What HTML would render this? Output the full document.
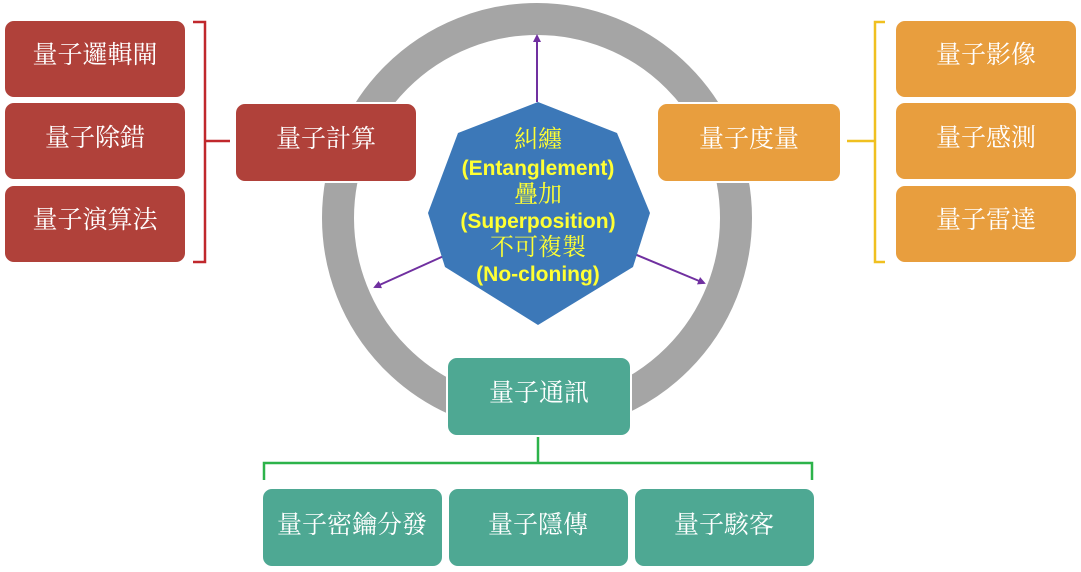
<!DOCTYPE html>
<html><head><meta charset="utf-8"><style>
html,body{margin:0;padding:0;background:#fff;width:1081px;height:572px;overflow:hidden}
svg text{font-family:"Liberation Serif","Noto Serif CJK SC","Noto Sans CJK TC",serif;}
</style></head><body>
<svg width="1081" height="572" viewBox="0 0 1081 572" xmlns="http://www.w3.org/2000/svg">
<defs>
<marker id="ah" markerWidth="8" markerHeight="8" refX="6" refY="4" orient="auto" markerUnits="userSpaceOnUse"><path d="M0,0 L8,4 L0,8 Z" fill="#7030a0"/></marker>
</defs>
<circle cx="537" cy="218" r="199" fill="none" stroke="#a5a5a5" stroke-width="32"/>
<g stroke="#7030a0" stroke-width="2" marker-end="url(#ah)">
<line x1="537" y1="102" x2="537" y2="36"/>
<line x1="446" y1="255" x2="375" y2="287"/>
<line x1="632" y1="253" x2="704" y2="283"/>
</g>
<polygon points="538,102 617,133 650,213 633,267 538,325 445,267 428,213 458,133" fill="#3c78b8"/>
<g fill="#ffff33" text-anchor="middle">
<text x="538" y="147" font-size="24">糾纏</text>
<text x="538" y="175" font-size="21" font-weight="bold" style="font-family:'Liberation Sans',sans-serif">(Entanglement)</text>
<text x="538" y="202" font-size="24">疊加</text>
<text x="538" y="228" font-size="21" font-weight="bold" style="font-family:'Liberation Sans',sans-serif">(Superposition)</text>
<text x="538" y="255" font-size="24">不可複製</text>
<text x="538" y="281" font-size="21" font-weight="bold" style="font-family:'Liberation Sans',sans-serif">(No-cloning)</text>
</g>
<path d="M193,22 H205 V262 H193 M205,141 H230" fill="none" stroke="#c0282c" stroke-width="2.5"/>
<path d="M885,22 H875 V262 H885 M875,141 H847" fill="none" stroke="#f0c020" stroke-width="2.5"/>
<path d="M538,437 V463 M264,480 V463 H812 V480" fill="none" stroke="#2db34a" stroke-width="2.5"/>
<g fill="#b0413a" stroke="#fff" stroke-width="2">
<rect x="4" y="20" width="182" height="78" rx="10"/>
<rect x="4" y="102" width="182" height="78" rx="10"/>
<rect x="4" y="185" width="182" height="78" rx="10"/>
<rect x="235" y="103" width="182" height="79" rx="10"/>
</g>
<g fill="#e89e3e" stroke="#fff" stroke-width="2">
<rect x="657" y="103" width="184" height="79" rx="10"/>
<rect x="895" y="20" width="182" height="78" rx="10"/>
<rect x="895" y="102" width="182" height="78" rx="10"/>
<rect x="895" y="185" width="182" height="78" rx="10"/>
</g>
<g fill="#4ea893" stroke="#fff" stroke-width="2">
<rect x="447" y="357" width="184" height="79" rx="10"/>
<rect x="262" y="488" width="181" height="79" rx="10"/>
<rect x="448" y="488" width="181" height="79" rx="10"/>
<rect x="634" y="488" width="181" height="79" rx="10"/>
</g>
<g fill="#fff" font-size="25" text-anchor="middle">
<text x="95" y="63">量子邏輯閘</text>
<text x="95" y="146">量子除錯</text>
<text x="95" y="228">量子演算法</text>
<text x="326" y="147">量子計算</text>
<text x="749" y="147">量子度量</text>
<text x="986" y="63">量子影像</text>
<text x="986" y="146">量子感測</text>
<text x="986" y="228">量子雷達</text>
<text x="539" y="401">量子通訊</text>
<text x="352" y="533">量子密鑰分發</text>
<text x="538" y="533">量子隱傳</text>
<text x="724" y="533">量子駭客</text>
</g>
</svg>
</body></html>
